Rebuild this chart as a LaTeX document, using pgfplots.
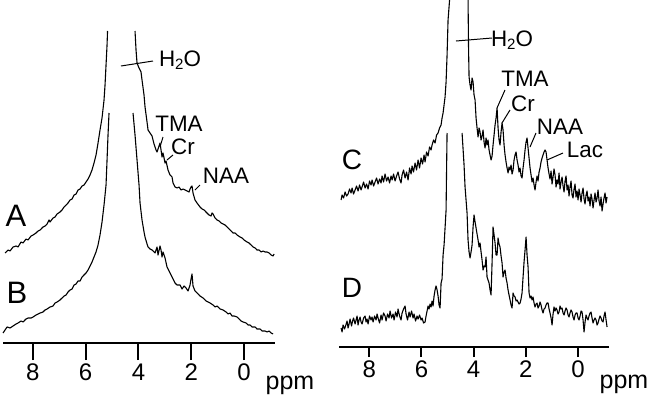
\documentclass[border=0pt]{standalone}
\usepackage{pgfplots}
\pgfplotsset{compat=1.18}
\usepackage{fontspec}
\setmainfont{Liberation Sans}
\newcommand{\water}{H\raisebox{-0.2ex}{\fontsize{7.5}{8}\selectfont 2}O}
\begin{document}
\begin{tikzpicture}
\useasboundingbox (0,0) rectangle (325pt,199pt);
\pgfplotsset{
  spec/.style={
    x dir=reverse, axis x line=bottom, axis y line=none,
    x axis line style={-, line width=1pt},
    xtick={0,2,4,6,8}, xtick align=outside,
    major tick style={line width=1pt, black},
    ticklabel style={font=\fontsize{12}{13}\selectfont},
    xticklabel style={yshift=1.5pt},
    /pgf/number format/assume math mode=true,
    y=0.5pt, ymin=0, clip=false, unbounded coords=jump,
    no markers,
    every axis plot post/.append style={black, line width=0.55pt, line join=round, mark=none},
  },
}
% ---------------- left panel ----------------
\begin{axis}[spec, x=13.2pt, xmin=-1.17, xmax=9.13, ymax=343,
  major tick length=8.5pt,
  at={(1.5pt,27.5pt)}, anchor=south west]
\addplot coordinates {(9.053,90)(8.939,93)(8.864,92)(8.750,96)(8.636,97)(8.561,96)(8.447,101)(8.371,100)(8.258,104)(8.182,103)(8.068,107)(7.992,108)(7.879,110)(7.803,112)(7.727,113)(7.614,116)(7.538,117)(7.462,119)(7.386,123)(7.348,121)(7.235,125)(7.159,126)(7.083,129)(6.970,131)(6.894,133)(6.818,136)(6.742,138)(6.667,140)(6.591,143)(6.515,144)(6.439,148)(6.364,149)(6.288,153)(6.212,154)(6.136,157)(6.061,158)(5.985,161)(5.909,164)(5.833,168)(5.758,173)(5.682,180)(5.606,188)(5.530,200)(5.455,213)(5.379,225)(5.303,243)(5.265,258)(5.227,278)(5.189,298)(5.170,312)
(4.65,nan)
(4.129,312)(4.091,293)(4.053,280)(3.977,275)(3.902,271)(3.864,263)(3.788,248)(3.750,236)(3.674,221)(3.636,213)(3.561,210)(3.485,207)(3.409,199)(3.333,193)(3.295,191)(3.220,197)(3.182,200)(3.144,193)(3.106,186)(3.068,190)(2.992,180)(2.955,182)(2.879,173)(2.803,168)(2.727,166)(2.689,160)(2.614,156)(2.538,155)(2.462,156)(2.386,153)(2.311,154)(2.235,153)(2.159,152)(2.083,151)(2.045,154)(2.008,156)(1.970,157)(1.932,150)(1.856,143)(1.780,140)(1.667,136)(1.591,134)(1.515,133)(1.402,130)(1.326,128)(1.250,127)(1.212,130)(1.174,129)(1.098,125)(1.023,123)(0.947,122)(0.871,120)(0.795,119)(0.720,118)(0.644,116)(0.568,114)(0.492,112)(0.417,110)(0.341,110)(0.265,108)(0.152,106)(0.076,105)(0,103)(-0.114,101)(-0.189,100)(-0.265,98)(-0.341,96)(-0.417,95)(-0.492,93)(-0.568,93)(-0.644,91)(-0.720,92)(-0.795,91)(-0.871,91)(-0.947,90)(-1.023,88)(-1.098,87)(-1.136,89)};
\addplot coordinates {(9.129,10)(9.053,13)(8.977,16)(8.864,15)(8.750,17)(8.636,19)(8.561,20)(8.447,22)(8.371,21)(8.258,24)(8.182,25)(8.068,25)(7.992,26)(7.879,28)(7.803,29)(7.727,30)(7.614,31)(7.538,33)(7.462,34)(7.348,36)(7.235,37)(7.159,40)(7.083,41)(6.970,43)(6.894,45)(6.818,47)(6.742,48)(6.667,51)(6.591,53)(6.515,54)(6.439,58)(6.364,59)(6.288,62)(6.212,62)(6.136,66)(6.061,68)(5.985,70)(5.909,73)(5.833,77)(5.758,81)(5.682,86)(5.606,91)(5.530,98)(5.455,108)(5.379,121)(5.303,138)(5.227,158)(5.189,183)(5.152,208)(5.114,230)
(4.65,nan)
(4.205,230)(4.129,208)(4.053,183)(3.977,158)(3.939,140)(3.864,123)(3.788,111)(3.750,106)(3.674,99)(3.636,96)(3.561,94)(3.485,93)(3.409,91)(3.371,90)(3.295,96)(3.258,88)(3.182,97)(3.144,93)(3.106,86)(3.068,91)(2.992,85)(2.917,76)(2.803,70)(2.727,66)(2.614,60)(2.538,58)(2.424,58)(2.348,54)(2.273,57)(2.197,55)(2.121,52)(2.045,58)(2.008,64)(1.970,69)(1.932,57)(1.856,52)(1.780,50)(1.667,47)(1.553,45)(1.439,42)(1.364,41)(1.288,40)(1.174,38)(1.098,36)(1.023,37)(0.909,34)(0.795,33)(0.682,31)(0.606,29)(0.530,30)(0.455,27)(0.379,27)(0.265,26)(0.189,24)(0.114,22)(0.038,21)(-0.076,20)(-0.152,18)(-0.227,18)(-0.303,16)(-0.417,16)(-0.492,14)(-0.606,14)(-0.682,12)(-0.795,12)(-0.871,11)(-0.947,12)(-1.023,10)(-1.098,9)};
\end{axis}
% ---------------- right panel ----------------
\begin{axis}[spec, x=13.05pt, xmin=-1.19, xmax=9.16, ymax=347,
  major tick length=5pt,
  at={(169.5pt,25.5pt)}, anchor=south west]
\addplot coordinates {(9.080,147)(9.042,152)(8.985,149)(8.927,155)(8.870,151)(8.812,153)(8.755,158)(8.697,154)(8.659,159)(8.602,153)(8.544,157)(8.487,161)(8.429,156)(8.372,162)(8.314,157)(8.276,160)(8.218,165)(8.161,159)(8.103,163)(8.046,158)(7.989,166)(7.931,162)(7.893,167)(7.835,161)(7.778,165)(7.720,169)(7.663,163)(7.605,168)(7.548,164)(7.510,171)(7.452,165)(7.395,173)(7.337,166)(7.280,170)(7.222,164)(7.165,171)(7.126,167)(7.069,173)(7.011,166)(6.954,171)(6.897,175)(6.839,168)(6.782,164)(6.743,172)(6.686,177)(6.628,169)(6.571,175)(6.513,167)(6.456,179)(6.398,173)(6.360,181)(6.303,175)(6.245,184)(6.188,177)(6.130,187)(6.073,179)(6.015,189)(5.958,183)(5.900,192)(5.862,185)(5.805,195)(5.747,191)(5.690,200)(5.632,197)(5.594,202)(5.536,207)(5.479,204)(5.421,212)(5.364,214)(5.307,219)(5.249,222)(5.211,229)(5.172,234)(5.134,242)(5.096,250)(5.057,265)(5.019,292)(4.981,327)(4.923,347)
(4.6,nan)
(4.215,347)(4.195,297)(4.176,270)(4.138,262)(4.100,257)(4.061,269)(4.023,265)(3.985,252)(3.946,247)(3.908,229)(3.870,219)(3.831,210)(3.793,219)(3.755,215)(3.716,207)(3.678,211)(3.640,217)(3.602,205)(3.563,199)(3.525,209)(3.487,202)(3.448,207)(3.410,197)(3.372,192)(3.333,187)(3.295,191)(3.257,202)(3.218,212)(3.180,222)(3.142,229)(3.103,239)(3.065,219)(3.027,207)(2.989,202)(2.950,215)(2.912,224)(2.874,217)(2.835,202)(2.797,192)(2.759,185)(2.720,179)(2.682,174)(2.644,180)(2.605,177)(2.567,182)(2.529,173)(2.490,177)(2.452,187)(2.414,192)(2.375,195)(2.337,187)(2.299,182)(2.261,175)(2.222,179)(2.184,171)(2.146,169)(2.107,179)(2.069,187)(2.031,197)(1.992,205)(1.954,209)(1.916,199)(1.877,189)(1.839,179)(1.801,172)(1.762,165)(1.724,169)(1.686,162)(1.648,157)(1.609,165)(1.571,171)(1.533,166)(1.494,175)(1.456,179)(1.418,185)(1.379,189)(1.341,192)(1.303,195)(1.264,197)(1.226,195)(1.188,187)(1.149,179)(1.111,173)(1.073,168)(1.034,176)(0.996,163)(0.958,170)(0.920,178)(0.881,172)(0.843,160)(0.805,167)(0.766,163)(0.728,174)(0.690,158)(0.651,165)(0.613,170)(0.575,161)(0.536,155)(0.498,166)(0.460,171)(0.421,157)(0.383,162)(0.345,151)(0.307,160)(0.268,166)(0.230,152)(0.192,149)(0.153,158)(0.115,163)(0.077,150)(0.038,156)(0,147)(-0.038,158)(-0.077,152)(-0.115,145)(-0.153,154)(-0.192,159)(-0.230,148)(-0.268,143)(-0.307,152)(-0.345,156)(-0.383,146)(-0.421,150)(-0.460,141)(-0.498,153)(-0.536,148)(-0.575,139)(-0.613,147)(-0.651,154)(-0.690,145)(-0.728,149)(-0.766,157)(-0.805,146)(-0.843,141)(-0.881,150)(-0.920,136)(-0.958,143)(-0.996,149)(-1.034,154)(-1.073,144)(-1.111,150)};
\addplot coordinates {(9.080,19)(9.042,15)(9.004,22)(8.946,18)(8.908,21)(8.851,26)(8.812,19)(8.774,23)(8.736,28)(8.678,21)(8.640,26)(8.602,29)(8.544,23)(8.506,27)(8.467,31)(8.429,22)(8.391,27)(8.352,30)(8.314,25)(8.276,23)(8.218,29)(8.161,31)(8.123,25)(8.084,28)(8.046,23)(7.989,31)(7.931,27)(7.893,30)(7.854,25)(7.797,31)(7.739,27)(7.701,33)(7.663,29)(7.605,24)(7.548,32)(7.510,27)(7.452,34)(7.395,31)(7.356,26)(7.299,33)(7.241,29)(7.203,36)(7.146,29)(7.088,33)(7.050,27)(6.992,35)(6.935,30)(6.897,38)(6.839,31)(6.782,27)(6.743,34)(6.686,38)(6.628,41)(6.590,33)(6.533,27)(6.475,35)(6.437,30)(6.379,36)(6.322,29)(6.284,33)(6.226,26)(6.169,31)(6.130,28)(6.073,32)(6.015,27)(5.977,29)(5.920,24)(5.862,25)(5.824,31)(5.785,36)(5.747,41)(5.709,38)(5.670,43)(5.632,40)(5.594,46)(5.556,41)(5.517,51)(5.479,57)(5.441,61)(5.402,57)(5.364,51)(5.326,42)(5.287,39)(5.249,64)(5.211,68)(5.172,92)(5.134,102)(5.096,119)(5.057,137)(5.038,177)(5.019,214)
(4.7,nan)
(4.444,214)(4.368,182)(4.330,160)(4.253,134)(4.215,107)(4.176,95)(4.138,89)(4.100,95)(4.061,102)(4.023,120)(3.985,132)(3.946,125)(3.908,119)(3.870,113)(3.831,107)(3.793,100)(3.755,104)(3.716,95)(3.678,87)(3.640,77)(3.602,81)(3.563,80)(3.525,90)(3.487,70)(3.448,67)(3.410,64)(3.372,57)(3.333,52)(3.295,84)(3.257,120)(3.218,112)(3.180,104)(3.142,92)(3.103,92)(3.065,109)(3.027,103)(2.989,100)(2.950,91)(2.912,84)(2.874,70)(2.835,75)(2.797,77)(2.759,69)(2.720,64)(2.682,57)(2.644,52)(2.605,47)(2.567,42)(2.529,39)(2.490,54)(2.452,51)(2.414,50)(2.375,46)(2.337,47)(2.299,45)(2.261,43)(2.222,44)(2.184,48)(2.146,54)(2.107,70)(2.069,85)(2.031,97)(1.992,110)(1.954,92)(1.916,80)(1.877,54)(1.839,49)(1.801,51)(1.762,47)(1.724,50)(1.686,44)(1.648,40)(1.609,43)(1.571,44)(1.533,39)(1.494,41)(1.456,45)(1.418,42)(1.379,37)(1.341,34)(1.303,38)(1.264,39)(1.226,42)(1.188,44)(1.149,44)(1.111,38)(1.073,34)(1.034,29)(0.996,22)(0.958,33)(0.920,40)(0.881,36)(0.843,39)(0.805,37)(0.766,33)(0.728,35)(0.690,41)(0.651,38)(0.613,39)(0.575,34)(0.536,32)(0.498,36)(0.460,39)(0.421,37)(0.383,32)(0.345,30)(0.307,34)(0.268,37)(0.230,35)(0.192,30)(0.153,27)(0.115,32)(0.077,34)(0.038,34)(0,29)(-0.038,27)(-0.077,31)(-0.115,36)(-0.153,35)(-0.192,27)(-0.230,15)(-0.268,25)(-0.307,32)(-0.345,29)(-0.383,27)(-0.421,31)(-0.460,34)(-0.498,35)(-0.536,29)(-0.575,24)(-0.613,27)(-0.651,29)(-0.690,27)(-0.728,22)(-0.766,24)(-0.805,28)(-0.843,31)(-0.881,29)(-0.920,26)(-0.958,25)(-0.996,31)(-1.034,35)(-1.073,27)(-1.111,20)};
\end{axis}
% ---------------- annotations (pixel grid) ----------------
\begin{scope}[x=0.5pt, y=-0.5pt, yshift=199pt, line width=0.5pt,
  lab/.style={font=\fontsize{11.2}{13}\selectfont, inner sep=0pt},
  ppm/.style={font=\fontsize{12.5}{14}\selectfont, inner sep=0pt, anchor=base},
  bigL/.style={font=\fontsize{15.5}{17}\selectfont, inner sep=0pt},
  bigR/.style={font=\fontsize{14}{16}\selectfont, inner sep=0pt}]
% left
\draw (121,66) -- (153,61);
\node[lab] at (180,60) {\water};
\draw (160,147) -- (163,137);
\node[lab] at (179,124) {TMA};
\draw (167,160) -- (173,155);
\node[lab] at (183,147) {Cr};
\draw (195,190) -- (200,185);
\node[lab] at (226,176) {NAA};
\node[bigL] at (16,216) {A};
\node[bigL] at (17,293) {B};
\node[ppm] at (290,389) {ppm};
% right
\draw (456,41) -- (492,38);
\node[lab] at (512,40) {\water};
\draw (497,108) -- (505,90);
\node[lab] at (525,79) {TMA};
\draw (502,123) -- (510,110);
\node[lab] at (523,104) {Cr};
\draw (530,147) -- (536,133);
\node[lab] at (560,127) {NAA};
\draw (547,160) -- (563,153);
\node[lab] at (585,150) {Lac};
\node[bigR] at (352,160) {C};
\node[bigR] at (352,288) {D};
\node[ppm] at (624,388) {ppm};
\end{scope}
\end{tikzpicture}
\end{document}
